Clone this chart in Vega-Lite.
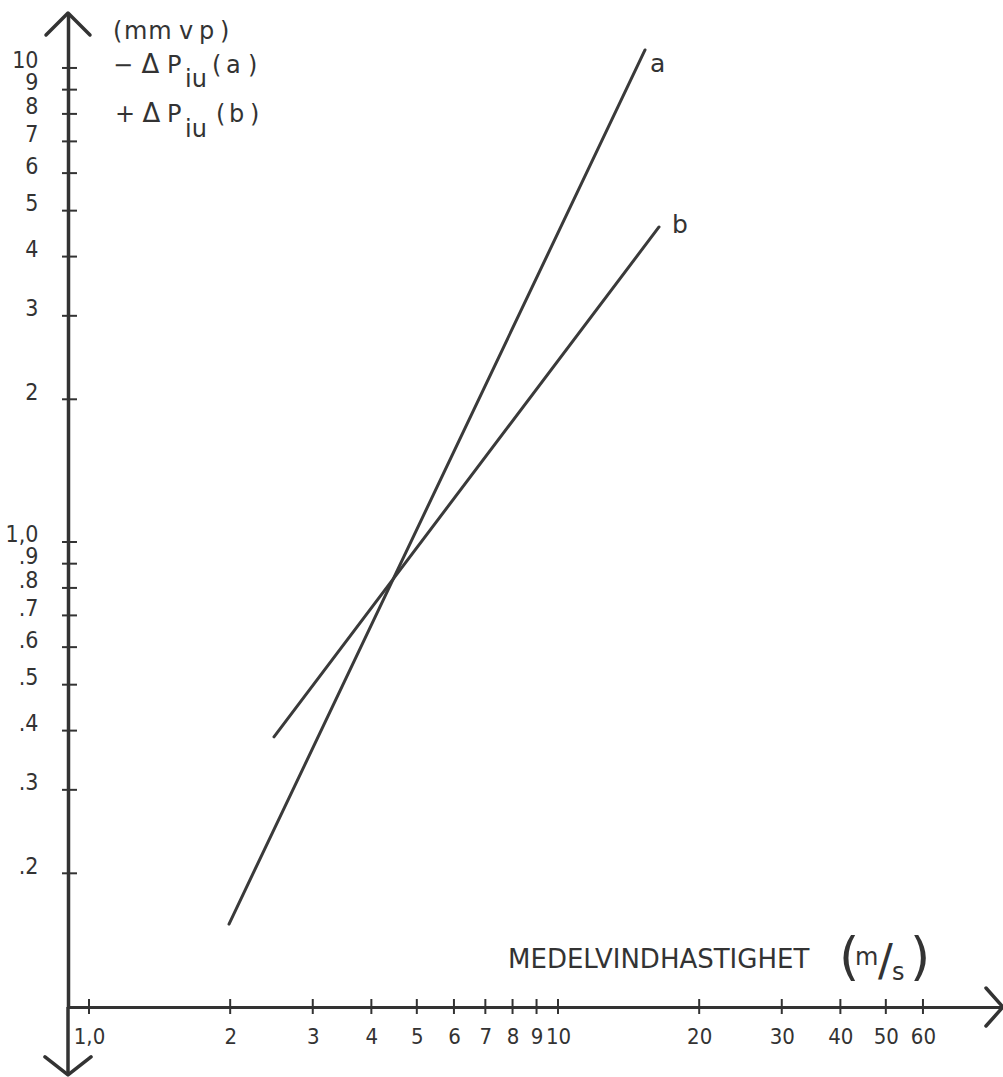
{
  "$schema": "https://vega.github.io/schema/vega-lite/v6.json",
  "width": 935,
  "height": 994,
  "autosize": {"type": "none"},
  "padding": {"left": 68, "top": 13, "right": 0, "bottom": 70},
  "background": "white",
  "config": {
    "view": {"stroke": null},
    "font": "DejaVu Sans",
    "text": {"color": "#333333", "font": "DejaVu Sans"}
  },
  "datasets": {
    "lines": [
      {"series": "a", "x": 1.9887, "y": 0.15633},
      {"series": "a", "x": 15.33, "y": 10.914},
      {"series": "b", "x": 2.48, "y": 0.388},
      {"series": "b", "x": 16.42, "y": 4.619}
    ],
    "xticks": [{"v": 1}, {"v": 2}, {"v": 3}, {"v": 4}, {"v": 5}, {"v": 6}, {"v": 7}, {"v": 8}, {"v": 9}, {"v": 10}, {"v": 20}, {"v": 30}, {"v": 40}, {"v": 50}, {"v": 60}],
    "yticks": [{"v": 0.2}, {"v": 0.3}, {"v": 0.4}, {"v": 0.5}, {"v": 0.6}, {"v": 0.7}, {"v": 0.8}, {"v": 0.9}, {"v": 1}, {"v": 2}, {"v": 3}, {"v": 4}, {"v": 5}, {"v": 6}, {"v": 7}, {"v": 8}, {"v": 9}, {"v": 10}],
    "arrows": [
      {"dir": "up", "x": 0.9021, "y": 13.06},
      {"dir": "right", "x": 88.88, "y": 0.10447},
      {"dir": "down", "x": 0.9021, "y": 0.0751}
    ],
    "axisext": [{"x": 0.9021, "y": 0.10447, "y2": 0.0751}],
    "notes": [
      {"t": "(", "x": 1.1250, "y": 11.513},
      {"t": "m", "x": 1.1875, "y": 11.513},
      {"t": "m", "x": 1.3379, "y": 11.513},
      {"t": "v", "x": 1.5556, "y": 11.513},
      {"t": "p", "x": 1.7163, "y": 11.513},
      {"t": ")", "x": 1.9024, "y": 11.513},
      {"t": "−", "x": 1.1250, "y": 9.760},
      {"t": "P", "x": 1.4665, "y": 9.760},
      {"t": "iu", "x": 1.6022, "y": 9.119},
      {"t": "(", "x": 1.8294, "y": 9.760},
      {"t": "a", "x": 1.9597, "y": 9.760},
      {"t": ")", "x": 2.1829, "y": 9.760},
      {"t": "+", "x": 1.1361, "y": 7.692},
      {"t": "P", "x": 1.4665, "y": 7.692},
      {"t": "iu", "x": 1.6022, "y": 7.152},
      {"t": "(", "x": 1.8654, "y": 7.692},
      {"t": "b", "x": 1.9887, "y": 7.692},
      {"t": ")", "x": 2.2045, "y": 7.692},
      {"t": "m", "x": 42.99, "y": 0.12800},
      {"t": "s", "x": 51.55, "y": 0.11912}
    ],
    "deltas": [
      {"t": "Δ", "x": 1.3525, "y": 9.760},
      {"t": "Δ", "x": 1.3591, "y": 7.692}
    ],
    "linelabels": [
      {"t": "a", "x": 15.71, "y": 9.808},
      {"t": "b", "x": 17.50, "y": 4.487}
    ],
    "title": [
      {"t": "MEDELVINDHASTIGHET", "x": 7.8244, "y": 0.12630}
    ],
    "parens": [
      {"t": "(", "x": 39.72, "y": 0.12264},
      {"t": ")", "x": 56.31, "y": 0.12264}
    ],
    "slash": [
      {"t": "/", "x": 48.12, "y": 0.12145}
    ]
  },
  "layer": [
    {
      "data": {"name": "lines"},
      "mark": {"type": "line", "color": "#3a3a3a", "strokeWidth": 3, "strokeCap": "round"},
      "encoding": {
        "x": {
          "field": "x", "type": "quantitative",
          "scale": {"type": "log", "domain": [0.9021, 88.88], "nice": false},
          "axis": {
            "values": [1, 2, 3, 4, 5, 6, 7, 8, 9, 10, 20, 30, 40, 50, 60],
            "labelExpr": "datum.value == 1 ? '1,0' : format(datum.value, 'd')",
            "ticks": false, "tickSize": 0, "grid": false, "title": null,
            "labelPadding": 19, "labelFontSize": 22, "labelFont": "DejaVu Sans Condensed, DejaVu Sans",
            "labelColor": "#333333", "labelFlush": false, "labelOverlap": false, "labelBound": false,
            "domainColor": "#333333", "domainWidth": 3
          }
        },
        "y": {
          "field": "y", "type": "quantitative",
          "scale": {"type": "log", "domain": [0.10447, 13.06], "nice": false},
          "axis": {
            "values": [0.2, 0.3, 0.4, 0.5, 0.6, 0.7, 0.8, 0.9, 1, 2, 3, 4, 5, 6, 7, 8, 9, 10],
            "labelExpr": "datum.value >= 2 ? format(datum.value, 'd') : (datum.value == 1 ? '1,0' : '.' + format(datum.value * 10, 'd'))",
            "ticks": false, "tickSize": 0, "grid": false, "title": null,
            "labelPadding": 30, "labelFontSize": 23, "labelFont": "DejaVu Sans Condensed, DejaVu Sans",
            "labelAlign": "right", "labelBaseline": "alphabetic",
            "labelColor": "#333333", "labelFlush": false, "labelOverlap": false, "labelBound": false,
            "domainColor": "#333333", "domainWidth": 3.5
          }
        },
        "detail": {"field": "series", "type": "nominal"}
      }
    },
    {
      "data": {"name": "axisext"},
      "mark": {"type": "rule", "color": "#333333", "strokeWidth": 3.5},
      "encoding": {
        "x": {"field": "x", "type": "quantitative", "scale": {"type": "log", "domain": [0.9021, 88.88], "nice": false}},
        "y": {"field": "y", "type": "quantitative", "scale": {"type": "log", "domain": [0.10447, 13.06], "nice": false}},
        "y2": {"field": "y2"}
      }
    },
    {
      "data": {"name": "yticks"},
      "mark": {"type": "tick", "orient": "horizontal", "color": "#333333", "size": 15, "thickness": 2, "opacity": 1},
      "encoding": {
        "x": {"datum": 0.9087, "type": "quantitative", "scale": {"type": "log", "domain": [0.9021, 88.88], "nice": false}},
        "y": {"field": "v", "type": "quantitative", "scale": {"type": "log", "domain": [0.10447, 13.06], "nice": false}}
      }
    },
    {
      "data": {"name": "xticks"},
      "mark": {"type": "tick", "orient": "vertical", "color": "#333333", "size": 15, "thickness": 2, "opacity": 1},
      "encoding": {
        "x": {"field": "v", "type": "quantitative", "scale": {"type": "log", "domain": [0.9021, 88.88], "nice": false}},
        "y": {"datum": 0.10472, "type": "quantitative", "scale": {"type": "log", "domain": [0.10447, 13.06], "nice": false}}
      }
    },
    {
      "data": {"name": "arrows"},
      "mark": {"type": "point", "filled": false, "color": "#333333", "strokeWidth": 3.5, "opacity": 1, "size": 1600, "strokeJoin": "round", "strokeCap": "round"},
      "encoding": {
        "x": {"field": "x", "type": "quantitative", "scale": {"type": "log", "domain": [0.9021, 88.88], "nice": false}},
        "y": {"field": "y", "type": "quantitative", "scale": {"type": "log", "domain": [0.10447, 13.06], "nice": false}},
        "shape": {
          "field": "dir", "type": "nominal", "legend": null,
          "scale": {"domain": ["up", "right", "down"], "range": ["M-1.1,1.1L0,0L1.1,1.1", "M-0.85,-0.95L0,0L-0.85,0.95", "M-1.15,-0.9L0,0L1.15,-0.9"]}
        }
      }
    },
    {
      "data": {"name": "notes"},
      "mark": {"type": "text", "align": "left", "baseline": "alphabetic", "fontSize": 24, "color": "#333333"},
      "encoding": {
        "x": {"field": "x", "type": "quantitative", "scale": {"type": "log", "domain": [0.9021, 88.88], "nice": false}},
        "y": {"field": "y", "type": "quantitative", "scale": {"type": "log", "domain": [0.10447, 13.06], "nice": false}},
        "text": {"field": "t"}
      }
    },
    {
      "data": {"name": "deltas"},
      "mark": {"type": "text", "align": "center", "baseline": "alphabetic", "fontSize": 26, "color": "#333333"},
      "encoding": {
        "x": {"field": "x", "type": "quantitative", "scale": {"type": "log", "domain": [0.9021, 88.88], "nice": false}},
        "y": {"field": "y", "type": "quantitative", "scale": {"type": "log", "domain": [0.10447, 13.06], "nice": false}},
        "text": {"field": "t"}
      }
    },
    {
      "data": {"name": "linelabels"},
      "mark": {"type": "text", "align": "left", "baseline": "alphabetic", "fontSize": 25, "color": "#333333"},
      "encoding": {
        "x": {"field": "x", "type": "quantitative", "scale": {"type": "log", "domain": [0.9021, 88.88], "nice": false}},
        "y": {"field": "y", "type": "quantitative", "scale": {"type": "log", "domain": [0.10447, 13.06], "nice": false}},
        "text": {"field": "t"}
      }
    },
    {
      "data": {"name": "title"},
      "mark": {"type": "text", "align": "left", "baseline": "alphabetic", "fontSize": 26, "color": "#333333"},
      "encoding": {
        "x": {"field": "x", "type": "quantitative", "scale": {"type": "log", "domain": [0.9021, 88.88], "nice": false}},
        "y": {"field": "y", "type": "quantitative", "scale": {"type": "log", "domain": [0.10447, 13.06], "nice": false}},
        "text": {"field": "t"}
      }
    },
    {
      "data": {"name": "parens"},
      "mark": {"type": "text", "align": "left", "baseline": "alphabetic", "fontSize": 52, "color": "#333333"},
      "encoding": {
        "x": {"field": "x", "type": "quantitative", "scale": {"type": "log", "domain": [0.9021, 88.88], "nice": false}},
        "y": {"field": "y", "type": "quantitative", "scale": {"type": "log", "domain": [0.10447, 13.06], "nice": false}},
        "text": {"field": "t"}
      }
    },
    {
      "data": {"name": "slash"},
      "mark": {"type": "text", "align": "left", "baseline": "alphabetic", "fontSize": 44, "color": "#333333"},
      "encoding": {
        "x": {"field": "x", "type": "quantitative", "scale": {"type": "log", "domain": [0.9021, 88.88], "nice": false}},
        "y": {"field": "y", "type": "quantitative", "scale": {"type": "log", "domain": [0.10447, 13.06], "nice": false}},
        "text": {"field": "t"}
      }
    }
  ]
}
